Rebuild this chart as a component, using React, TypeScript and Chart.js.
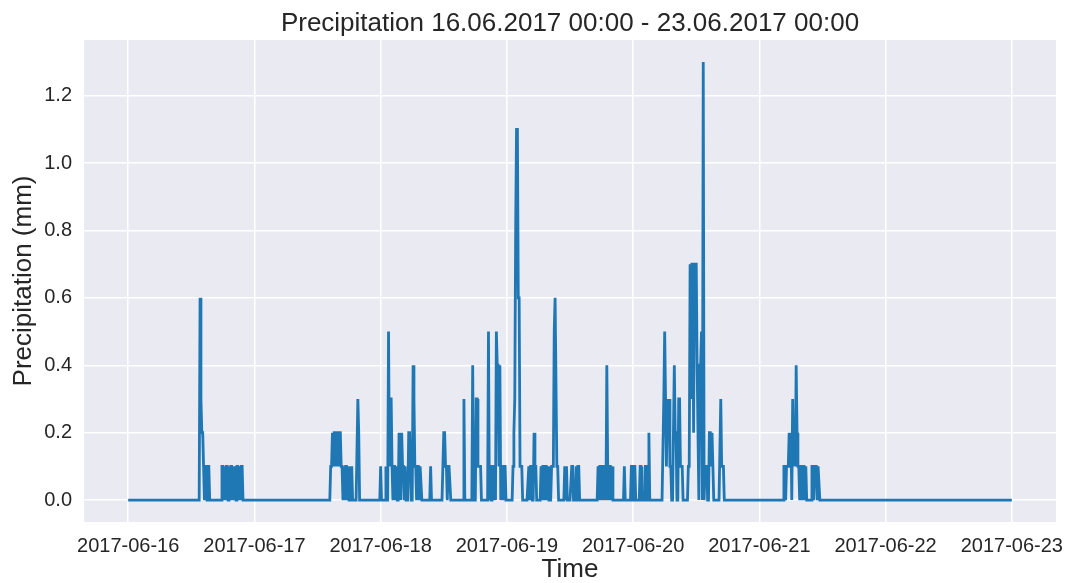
import React, { useEffect, useRef } from "react";
import Chart from "chart.js/auto";

// ---- data ----
const chartTitle = "Precipitation 16.06.2017 00:00 - 23.06.2017 00:00";
const xAxisTitle = "Time";
const yAxisTitle = "Precipitation (mm)";
const dayLabels = [
  "2017-06-16",
  "2017-06-17",
  "2017-06-18",
  "2017-06-19",
  "2017-06-20",
  "2017-06-21",
  "2017-06-22",
  "2017-06-23",
];
const yTickValues = [0, 0.2, 0.4, 0.6, 0.8, 1.0, 1.2];
const slotsPerDay = 144; // 10-minute readings
const totalSlots = 1008; // 7 days

// non-zero 10-minute readings: [slot index from 16.06 00:00, mm]
const rain16: [number, number][] = [
  [82, 0.6], [83, 0.3], [84, 0.2], [85, 0.2], [86, 0.1], [88, 0.1], [89, 0.1], [91, 0.1], [92, 0.1],
  [107, 0.1], [108, 0.1], [110, 0.1], [112, 0.1], [113, 0.1], [115, 0.1], [117, 0.1], [118, 0.1],
  [120, 0.1], [122, 0.1], [124, 0.1], [125, 0.1], [127, 0.1], [129, 0.1], [130, 0.1],
];
const rain17: [number, number][] = [
  [231, 0.1], [232, 0.1], [233, 0.2], [234, 0.1], [235, 0.2], [236, 0.2], [237, 0.1], [238, 0.2],
  [239, 0.2], [240, 0.1], [241, 0.2], [242, 0.2], [243, 0.1], [244, 0.1], [246, 0.1], [248, 0.1],
  [249, 0.1], [251, 0.1], [253, 0.1], [255, 0.1], [262, 0.3], [263, 0.2],
];
const rain18: [number, number][] = [
  [288, 0.1], [294, 0.1], [297, 0.5], [298, 0.1], [299, 0.3], [300, 0.3], [301, 0.1], [303, 0.1],
  [304, 0.1], [306, 0.1], [309, 0.2], [310, 0.1], [312, 0.2], [313, 0.1], [314, 0.1], [316, 0.1],
  [320, 0.2], [321, 0.2], [322, 0.1], [325, 0.4], [326, 0.3], [327, 0.1], [328, 0.1], [330, 0.1],
  [331, 0.1], [333, 0.1], [334, 0.1], [345, 0.1], [360, 0.2], [361, 0.2], [362, 0.1], [363, 0.1],
  [365, 0.1], [366, 0.1], [367, 0.1], [383, 0.3], [393, 0.4], [397, 0.3], [398, 0.3], [399, 0.1],
  [400, 0.1], [401, 0.1], [402, 0.1], [411, 0.5], [413, 0.1], [415, 0.1], [416, 0.1], [418, 0.1],
  [420, 0.5], [421, 0.4], [422, 0.4], [423, 0.1], [424, 0.4], [426, 0.1], [427, 0.1], [429, 0.1],
  [430, 0.1],
];
const rain19: [number, number][] = [
  [439, 0.1], [440, 0.2], [441, 0.3], [442, 0.8], [443, 1.1], [444, 1.1], [445, 0.6], [446, 0.6],
  [447, 0.1], [448, 0.1], [449, 0.1], [457, 0.1], [459, 0.1], [460, 0.1], [463, 0.2], [464, 0.1],
  [465, 0.1], [471, 0.1], [473, 0.1], [474, 0.1], [476, 0.1], [477, 0.1], [479, 0.1], [483, 0.1],
  [484, 0.1], [485, 0.1], [486, 0.5], [487, 0.6], [488, 0.6], [489, 0.1], [490, 0.1], [498, 0.1],
  [500, 0.1], [506, 0.1], [507, 0.1], [511, 0.1], [513, 0.1], [514, 0.1], [536, 0.1], [538, 0.1],
  [539, 0.1], [541, 0.1], [542, 0.1], [544, 0.1], [546, 0.4], [547, 0.1], [549, 0.1], [550, 0.1],
  [552, 0.1], [566, 0.1], [574, 0.1], [575, 0.1],
];
const rain20: [number, number][] = [
  [577, 0.1], [578, 0.1], [584, 0.1], [585, 0.1], [590, 0.1], [591, 0.1], [594, 0.2],
  [611, 0.3], [612, 0.5], [613, 0.3], [614, 0.1], [615, 0.3], [616, 0.2], [617, 0.3], [618, 0.1],
  [619, 0.1], [622, 0.2], [623, 0.4], [624, 0.2], [625, 0.2], [628, 0.3], [629, 0.3], [630, 0.1],
  [631, 0.1], [632, 0.1], [639, 0.1], [640, 0.1], [641, 0.7], [642, 0.3], [643, 0.7], [644, 0.7],
  [645, 0.2], [646, 0.7], [647, 0.7], [648, 0.7], [649, 0.4], [650, 0.4], [652, 0.4], [653, 0.4],
  [654, 0.5], [656, 1.3], [658, 0.1], [659, 0.1], [660, 0.1], [663, 0.2], [664, 0.2], [665, 0.1],
  [666, 0.2], [667, 0.2], [676, 0.3], [677, 0.1], [678, 0.1], [679, 0.1],
];
const rain21: [number, number][] = [
  [748, 0.1], [749, 0.1], [751, 0.1], [752, 0.1], [753, 0.1], [754, 0.2], [755, 0.1], [756, 0.2],
  [758, 0.3], [759, 0.1], [760, 0.2], [761, 0.1], [762, 0.4], [763, 0.2], [764, 0.1], [765, 0.1],
  [767, 0.1], [768, 0.1], [770, 0.1], [771, 0.1], [773, 0.1], [780, 0.1], [781, 0.1], [783, 0.1],
  [784, 0.1], [785, 0.1], [787, 0.1], [788, 0.1],
];

const FONT = "'Liberation Sans', Arial, Helvetica, sans-serif";
const TEXT = "#262626";

function buildSeries() {
  const vals: number[] = new Array(totalSlots + 1).fill(0);
  [rain16, rain17, rain18, rain19, rain20, rain21].forEach((list) =>
    list.forEach(([s, v]) => {
      vals[s] = v;
    })
  );
  return vals.map((v, i) => ({ x: i / slotsPerDay, y: v }));
}

const bgPlugin = {
  id: "bgPlugin",
  beforeDraw(chart: any) {
    const { ctx, chartArea, width, height } = chart;
    ctx.save();
    ctx.fillStyle = "#ffffff";
    ctx.fillRect(0, 0, width, height);
    ctx.fillStyle = "#EAEAF2";
    ctx.fillRect(chartArea.left, chartArea.top, chartArea.right - chartArea.left, chartArea.bottom - chartArea.top);
    ctx.restore();
  },
};

// title centred over the plotting area (as matplotlib does)
const axesTitlePlugin = {
  id: "axesTitlePlugin",
  afterDraw(chart: any) {
    const { ctx, chartArea } = chart;
    ctx.save();
    ctx.fillStyle = TEXT;
    ctx.font = `26px ${FONT}`;
    ctx.textAlign = "center";
    ctx.textBaseline = "alphabetic";
    ctx.fillText(chartTitle, (chartArea.left + chartArea.right) / 2, 31);
    ctx.restore();
  },
};

export default function App() {
  const ref = useRef<HTMLCanvasElement | null>(null);
  useEffect(() => {
    if (!ref.current) return;
    const chart = new Chart(ref.current, {
      type: "line",
      data: {
        datasets: [
          {
            data: buildSeries(),
            borderColor: "#1f77b4",
            borderWidth: 2.8,
            pointRadius: 0,
            tension: 0,
            fill: false,
          },
        ],
      },
      options: {
        animation: false,
        responsive: false,
        parsing: false as any,
        normalized: true,
        layout: { padding: { left: 0, right: 13, top: 40, bottom: 0 } },
        plugins: {
          legend: { display: false },
          tooltip: { enabled: false },
          title: { display: false },
        },
        scales: {
          x: {
            type: "linear",
            min: -0.35,
            max: 7.35,
            afterBuildTicks: (axis: any) => {
              axis.ticks = dayLabels.map((_, i) => ({ value: i }));
            },
            afterFit: (axis: any) => {
              axis.height = 61;
              axis.paddingLeft = 0;
              axis.paddingRight = 0;
            },
            ticks: {
              color: TEXT,
              font: { family: FONT, size: 20 },
              padding: 12,
              maxRotation: 0,
              autoSkip: false,
              callback: (v: any) => dayLabels[Math.round(Number(v))] ?? "",
            },
            grid: { color: "#ffffff", lineWidth: 1.5, drawTicks: false },
            border: { display: false },
            title: {
              display: true,
              text: xAxisTitle,
              color: TEXT,
              font: { family: FONT, size: 26, lineHeight: 1 },
              padding: { top: 0, bottom: 0 },
            },
          },
          y: {
            type: "linear",
            min: -0.065,
            max: 1.365,
            afterBuildTicks: (axis: any) => {
              axis.ticks = yTickValues.map((v) => ({ value: v }));
            },
            afterFit: (axis: any) => {
              axis.width = 84;
              axis.paddingTop = 0;
              axis.paddingBottom = 0;
            },
            ticks: {
              color: TEXT,
              font: { family: FONT, size: 20 },
              padding: 12,
              callback: (v: any) => Number(v).toFixed(1),
            },
            grid: { color: "#ffffff", lineWidth: 1.5, drawTicks: false },
            border: { display: false },
            title: {
              display: true,
              text: yAxisTitle,
              color: TEXT,
              font: { family: FONT, size: 26, lineHeight: 1 },
              padding: { top: 11, bottom: 0 },
            },
          },
        },
      } as any,
      plugins: [bgPlugin, axesTitlePlugin],
    });
    return () => chart.destroy();
  }, []);

  return (
    <div style={{ position: "absolute", left: 0, top: 0, width: 1069, height: 583, background: "#fff" }}>
      <canvas ref={ref} width={1069} height={583} style={{ width: 1069, height: 583, display: "block" }} />
    </div>
  );
}
